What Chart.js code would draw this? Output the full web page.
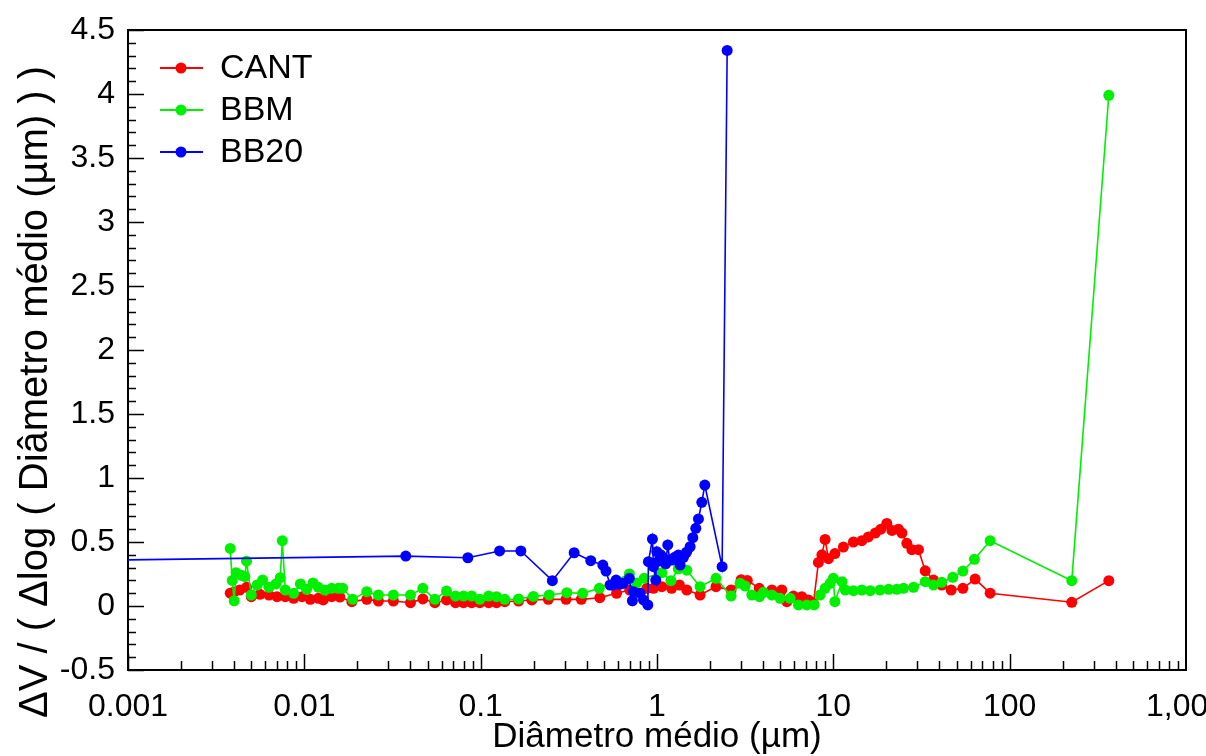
<!DOCTYPE html>
<html>
<head>
<meta charset="utf-8">
<script src="https://cdn.jsdelivr.net/npm/chart.js@4/dist/chart.umd.min.js"></script>
<style>
  html, body { margin: 0; padding: 0; background: #fff; overflow: hidden; }
  #wrap { width: 1260px; height: 756px; }
</style>
</head>
<body>
<div id="wrap"><canvas id="psdChart" width="1260" height="756"></canvas></div>
<script>
// series (x = diâmetro médio in µm, y = dV/dlogD)
const seriesNames = ['CANT', 'BBM', 'BB20'];
const seriesColors = ['#ff0000', '#00f000', '#0000ff'];

const cantX = [0.0038, 0.0040, 0.0043, 0.0047, 0.0050, 0.0056, 0.0063, 0.0070, 0.0078, 0.0087,
  0.0097, 0.0108, 0.0120, 0.0128, 0.0143, 0.0159, 0.0186, 0.0226, 0.0263, 0.032,
  0.040, 0.047, 0.055, 0.064, 0.072, 0.080, 0.089, 0.099, 0.111, 0.123,
  0.137, 0.164, 0.195, 0.242, 0.305, 0.372, 0.474, 0.59, 0.70, 0.875,
  0.955, 1.065, 1.21, 1.34, 1.475, 1.755, 2.16, 2.63, 3.0, 3.25,
  3.8, 4.48, 5.10, 5.45, 5.94, 6.62, 7.22, 7.71, 8.23, 8.61,
  8.98, 9.38, 10.2, 11.4, 13.0, 14.5, 15.8, 17.3, 18.6, 20.1,
  21.5, 23.4, 24.5, 26.1, 27.9, 30.4, 33.2, 37.0, 41.2, 46.6,
  54.3, 63.7, 77.5, 225, 365];
const cantY = [0.10, 0.11, 0.125, 0.146, 0.073, 0.091, 0.086, 0.073, 0.073, 0.060,
  0.073, 0.052, 0.060, 0.047, 0.073, 0.070, 0.034, 0.052, 0.039, 0.039,
  0.026, 0.055, 0.026, 0.047, 0.026, 0.026, 0.026, 0.026, 0.026, 0.026,
  0.034, 0.039, 0.047, 0.052, 0.052, 0.052, 0.065, 0.099, 0.125, 0.138,
  0.138, 0.151, 0.138, 0.164, 0.125, 0.086, 0.151, 0.125, 0.205, 0.20,
  0.138, 0.125, 0.125, 0.034, 0.078, 0.073, 0.047, 0.021, 0.34, 0.40,
  0.52, 0.37, 0.41, 0.46, 0.50, 0.51, 0.54, 0.57, 0.60, 0.645,
  0.59, 0.60, 0.57, 0.49, 0.44, 0.44, 0.275, 0.203, 0.164, 0.125,
  0.138, 0.21, 0.10, 0.029, 0.198];

const bbmX = [0.0038, 0.0039, 0.0040, 0.0041, 0.0044, 0.0046, 0.0047, 0.0050, 0.0054, 0.0058,
  0.0063, 0.0069, 0.0073, 0.0075, 0.0078, 0.0087, 0.0095, 0.0103, 0.0112, 0.0120,
  0.0131, 0.0143, 0.0156, 0.0165, 0.0188, 0.0226, 0.0263, 0.032, 0.040, 0.047,
  0.055, 0.064, 0.072, 0.080, 0.089, 0.099, 0.111, 0.123, 0.137, 0.164,
  0.199, 0.245, 0.308, 0.379, 0.471, 0.697, 0.767, 0.845, 1.065, 1.20,
  1.32, 1.475, 1.755, 2.16, 2.63, 2.96, 3.16, 3.45, 3.81, 4.01,
  4.48, 4.99, 5.69, 6.34, 7.08, 7.78, 8.41, 8.98, 9.59, 10.0,
  10.2, 11.2, 11.7, 13.0, 14.5, 16.2, 18.4, 20.6, 22.9, 25.0,
  28.5, 33.2, 37.0, 41.2, 47.6, 54.3, 63.1, 77.5, 225, 365];
const bbmY = [0.45, 0.20, 0.041, 0.26, 0.24, 0.23, 0.35, 0.086, 0.164, 0.203,
  0.146, 0.172, 0.221, 0.51, 0.125, 0.099, 0.172, 0.13, 0.18, 0.146,
  0.125, 0.138, 0.138, 0.138, 0.052, 0.112, 0.086, 0.086, 0.086, 0.138,
  0.052, 0.117, 0.078, 0.078, 0.078, 0.052, 0.078, 0.073, 0.052, 0.055,
  0.075, 0.086, 0.104, 0.099, 0.138, 0.25, 0.18, 0.216, 0.26, 0.198,
  0.29, 0.28, 0.151, 0.216, 0.078, 0.177, 0.156, 0.086, 0.073, 0.107,
  0.086, 0.060, 0.060, 0.008, 0.008, 0.008, 0.086, 0.138, 0.177, 0.216,
  0.034, 0.19, 0.125, 0.12, 0.125, 0.12, 0.125, 0.130, 0.130, 0.138,
  0.146, 0.19, 0.164, 0.185, 0.224, 0.273, 0.365, 0.51, 0.198, 3.99];

const bb20X = [0.0005, 0.0376, 0.0846, 0.128, 0.169, 0.255, 0.339, 0.421, 0.493, 0.514,
  0.542, 0.561, 0.586, 0.615, 0.644, 0.697, 0.725, 0.735, 0.802, 0.838,
  0.887, 0.894, 0.942, 0.955, 0.984, 0.997, 1.02, 1.05, 1.087, 1.12,
  1.151, 1.18, 1.213, 1.26, 1.322, 1.352, 1.413, 1.47, 1.541, 1.596,
  1.66, 1.718, 1.795, 1.867, 2.34, 2.50];
const bb20Y = [0.355, 0.39, 0.377, 0.43, 0.43, 0.198, 0.416, 0.354, 0.32, 0.273,
  0.164, 0.164, 0.203, 0.17, 0.177, 0.216, 0.041, 0.112, 0.10, 0.047,
  0.008, 0.346, 0.523, 0.307, 0.203, 0.424, 0.35, 0.40, 0.373, 0.33,
  0.477, 0.36, 0.359, 0.38, 0.398, 0.32, 0.38, 0.42, 0.463, 0.534,
  0.607, 0.68, 0.81, 0.945, 0.307, 4.34];

const xTickValues = [0.001, 0.01, 0.1, 1, 10, 100, 1000];
const xTickLabels = ['0.001', '0.01', '0.1', '1', '10', '100', '1,000'];
const yTickLabels = ['-0.5', '0', '0.5', '1', '1.5', '2', '2.5', '3', '3.5', '4', '4.5'];

const xTitle = 'Diâmetro médio (µm)';
const yTitle = 'ΔV / ( Δlog ( Diâmetro médio (µm) ) )';

const FONT = 'Liberation Sans, Arial, sans-serif';

function toPoints(xs, ys) {
  return xs.map((x, i) => ({ x: x, y: ys[i] }));
}

// box + inward tick marks (major and minor), like the original plot
const frameTicks = {
  id: 'frameTicks',
  beforeDatasetsDraw(chart) {
    const { ctx, chartArea: a, scales: { x, y } } = chart;
    ctx.save();
    ctx.strokeStyle = '#000';
    ctx.lineWidth = 1.5;
    ctx.beginPath();
    for (let d = -3; d <= 2; d++) {
      for (let m = 1; m <= 9; m++) {
        const px = Math.round(x.getPixelForValue(m * Math.pow(10, d))) + 0.5;
        const len = m === 1 ? 16 : 9;
        ctx.moveTo(px, a.bottom);
        ctx.lineTo(px, a.bottom - len);
      }
    }
    for (let i = -5; i <= 45; i++) {
      const py = Math.round(y.getPixelForValue(i / 10)) + 0.5;
      const len = i % 5 === 0 ? 16 : 8;
      ctx.moveTo(a.left, py);
      ctx.lineTo(a.left + len, py);
    }
    ctx.stroke();
    ctx.lineWidth = 2;
    ctx.strokeRect(a.left, a.top, a.right - a.left, a.bottom - a.top);
    ctx.restore();
  }
};

const yTitlePlugin = {
  id: 'yTitlePlugin',
  afterDraw(chart) {
    const ctx = chart.ctx;
    ctx.save();
    ctx.translate(36, 392);
    ctx.rotate(-Math.PI / 2);
    ctx.font = '40px ' + FONT;
    ctx.fillStyle = '#000';
    ctx.textAlign = 'center';
    ctx.textBaseline = 'middle';
    ctx.fillText(yTitle, 0, 0);
    ctx.restore();
  }
};

// legend drawn inside the plot, line + dot + label
const insideLegend = {
  id: 'insideLegend',
  afterDraw(chart) {
    const ctx = chart.ctx;
    ctx.save();
    chart.data.datasets.forEach((ds, i) => {
      const yy = 68 + i * 42;
      ctx.strokeStyle = ds.borderColor;
      ctx.lineWidth = 2;
      ctx.beginPath();
      ctx.moveTo(160, yy);
      ctx.lineTo(203, yy);
      ctx.stroke();
      ctx.fillStyle = ds.borderColor;
      ctx.beginPath();
      ctx.arc(181, yy, 5.5, 0, Math.PI * 2);
      ctx.fill();
      ctx.fillStyle = '#000';
      ctx.font = '34px ' + FONT;
      ctx.textBaseline = 'middle';
      ctx.fillText(ds.label, 220, yy + 1);
    });
    ctx.restore();
  }
};

function makeSet(i, xs, ys, order) {
  return {
    label: seriesNames[i],
    data: toPoints(xs, ys),
    borderColor: seriesColors[i],
    backgroundColor: seriesColors[i],
    pointBackgroundColor: seriesColors[i],
    pointBorderWidth: 0,
    pointRadius: 5.5,
    borderWidth: 1.6,
    showLine: true,
    tension: 0,
    order: order
  };
}

const ctx = document.getElementById('psdChart').getContext('2d');
const psdChart = new Chart(ctx, {
  type: 'scatter',
  data: {
    datasets: [
      makeSet(0, cantX, cantY, 3),
      makeSet(1, bbmX, bbmY, 2),
      makeSet(2, bb20X, bb20Y, 1)
    ]
  },
  options: {
    responsive: false,
    animation: false,
    devicePixelRatio: 1,
    layout: { padding: { left: 0, right: 74, top: 30, bottom: 0 } },
    scales: {
      x: {
        type: 'logarithmic',
        min: 0.001,
        max: 1000,
        grid: { display: false },
        border: { display: false },
        afterBuildTicks(scale) {
          scale.ticks = xTickValues.map(v => ({ value: v }));
        },
        afterFit(scale) {
          scale.height = 86;
        },
        ticks: {
          autoSkip: false,
          maxRotation: 0,
          padding: 10,
          color: '#000',
          font: { family: FONT, size: 32 },
          callback: (v) => xTickLabels[xTickValues.indexOf(v)]
        },
        title: {
          display: true,
          text: xTitle,
          color: '#000',
          font: { family: FONT, size: 35, lineHeight: 1 },
          padding: { top: 0, bottom: 1 }
        }
      },
      y: {
        min: -0.5,
        max: 4.5,
        grid: { display: false },
        border: { display: false },
        afterFit(scale) {
          scale.width = 128;
        },
        ticks: {
          stepSize: 0.5,
          padding: 5,
          color: '#000',
          font: { family: FONT, size: 32 },
          callback: (v, i) => yTickLabels[i]
        }
      }
    },
    plugins: {
      legend: { display: false },
      tooltip: { enabled: false }
    }
  },
  plugins: [frameTicks, yTitlePlugin, insideLegend]
});
</script>
</body>
</html>
